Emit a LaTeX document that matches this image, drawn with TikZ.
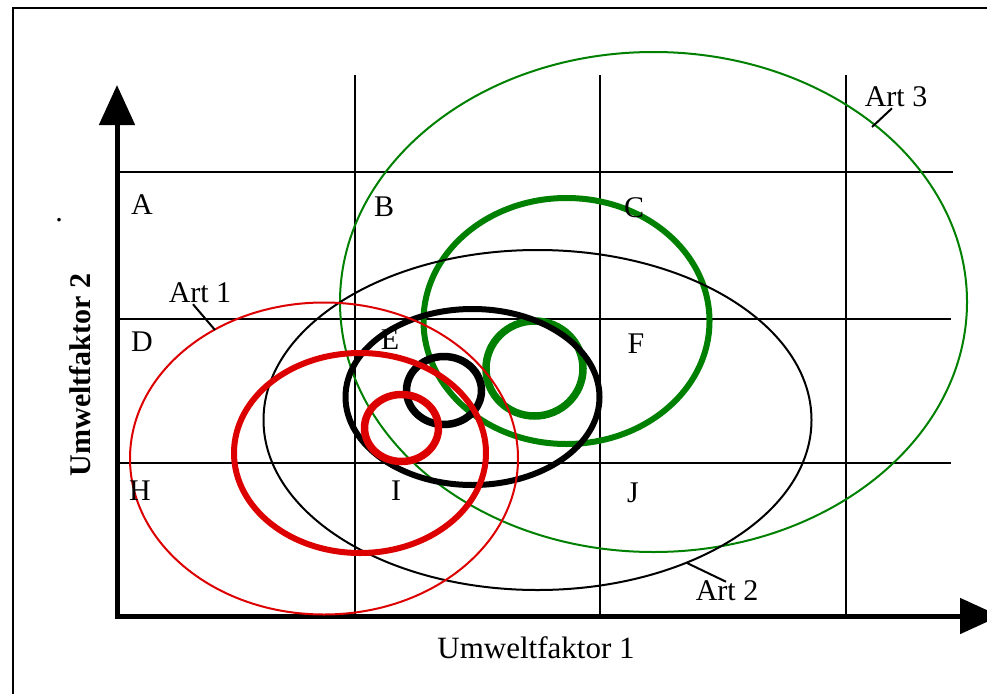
\documentclass[tikz,border=0pt]{standalone}
\usepackage{fontspec}
\setmainfont{Liberation Serif}
\usetikzlibrary{arrows.meta}
\definecolor{artgreen}{RGB}{0,128,0}
\definecolor{artred}{RGB}{221,0,0}
\begin{document}
\begin{tikzpicture}[x=1pt,y=-1pt,
  lbl/.style={font=\fontsize{30}{30}\selectfont, inner sep=0pt},
  gridline/.style={line width=2pt},
  thinring/.style={line width=2pt},
  thickring/.style={line width=6pt},
  smallring/.style={line width=7.5pt},
  leader/.style={line width=2pt}]
\useasboundingbox (0,0) rectangle (987,693);
\clip (0,0) rectangle (987,693);
% frame
\draw[line width=2pt] (13,700) -- (13,8) -- (995,8);
% grid
\draw[gridline] (115,172) -- (953,172);
\draw[gridline] (115,319) -- (951,319);
\draw[gridline] (115,463) -- (951,463);
\draw[gridline] (355,75) -- (355,614);
\draw[gridline] (600,75) -- (600,614);
\draw[gridline] (846,75) -- (846,614);
% axes
\draw[line width=5pt, line join=miter, {Triangle[length=40pt,width=35pt]}-{Triangle[length=40pt,width=35pt]}] (117,85) -- (117,616) -- (1000,616);
% ellipses: Art 3
\draw[artgreen, thinring] (653.5,302) ellipse [x radius=313.5pt, y radius=250pt];
\draw[artgreen, thickring] (566.5,321) ellipse [x radius=143pt, y radius=123pt];
\draw[artgreen, smallring] (534.5,368.5) ellipse [x radius=48.5pt, y radius=47.5pt];
% Art 2
\draw[black, thinring] (537.5,420) ellipse [x radius=274pt, y radius=170pt];
\draw[black, thickring] (472.5,397) ellipse [x radius=127pt, y radius=88pt];
\draw[black, smallring] (444,390.5) ellipse [x radius=37.5pt, y radius=34pt];
% Art 1
\draw[artred, thinring] (324,458.5) ellipse [x radius=194pt, y radius=156pt];
\draw[artred, thickring] (360,453) ellipse [x radius=126pt, y radius=100pt];
\draw[artred, smallring] (401.5,428) ellipse [x radius=37pt, y radius=33.5pt];
% cell labels
\node[lbl] (A) at (142,205) {A};
\node[lbl] (B) at (384,207) {B};
\node[lbl] (C) at (634,208) {C};
\node[lbl] (D) at (142,342) {D};
\node[lbl] (E) at (390,340) {E};
\node[lbl] (F) at (636,344) {F};
\node[lbl] (H) at (140,491) {H};
\node[lbl] (I) at (396,491) {I};
\node[lbl] (J) at (633,493) {J};
% species labels
\node[lbl] (art3) at (896,97) {Art 3};
\node[lbl] (art1) at (200,293) {Art 1};
\node[lbl] (art2) at (727,591) {Art 2};
\coordinate (a3end) at (872,127);
\coordinate (a1end) at (215,330);
\coordinate (a2end) at (687,563);
\draw[leader] ([xshift=-4pt,yshift=-1pt]art3.south) -- (a3end);
\draw[leader] ([xshift=-7pt,yshift=-1pt]art1.south) -- (a1end);
\draw[leader] ([xshift=-1pt,yshift=-1pt]art2.north) -- (a2end);
% axis titles
\node[lbl, font=\fontsize{31}{31}\selectfont] (xlab) at (536,648) {Umweltfaktor 1};
\node[lbl, rotate=90, font=\fontsize{30}{30}\selectfont\bfseries] (ylab) at (80,375) {Umweltfaktor 2};
\node[lbl] (dot) at (59,220) {.};
\end{tikzpicture}
\end{document}
